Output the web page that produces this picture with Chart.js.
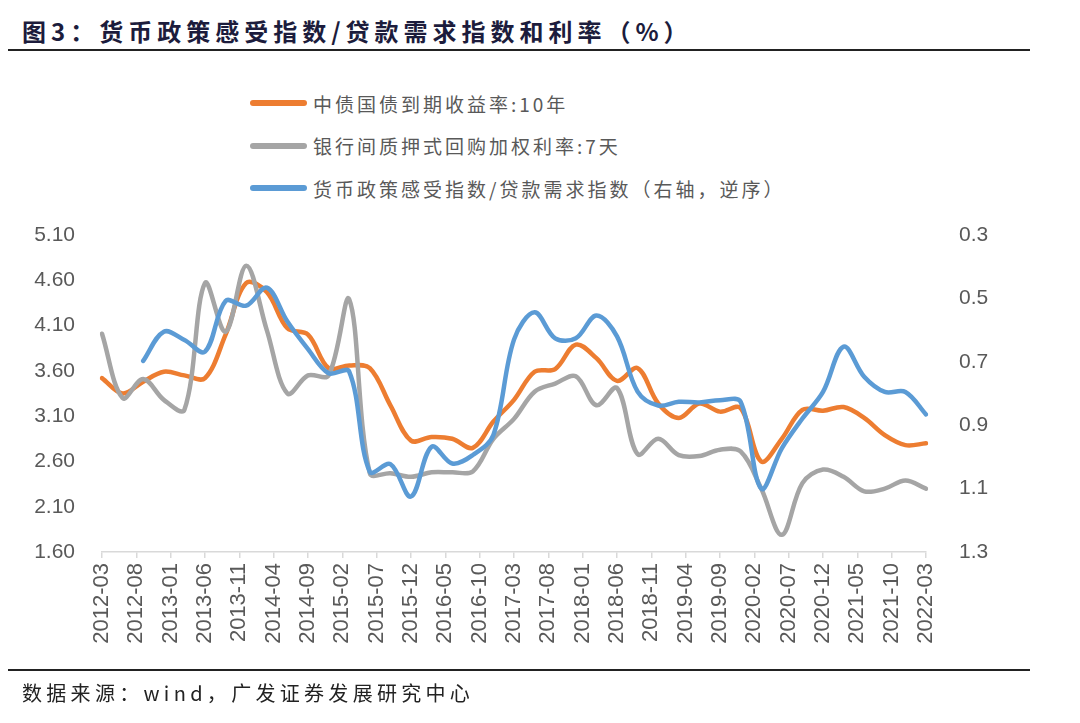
<!DOCTYPE html>
<html>
<head>
<meta charset="utf-8">
<script src="https://cdn.jsdelivr.net/npm/chart.js@4.4.1/dist/chart.umd.min.js"></script>
<style>
  body { margin: 0; width: 1080px; height: 723px; position: relative; background: #fff; overflow: hidden; font-family: "Noto Sans CJK SC", sans-serif; }
  #title { position: absolute; left: 22px; top: 13px; font-size: 24px; font-weight: bold; color: #1c1c3c; letter-spacing: 5px; white-space: nowrap; }
  .rule { position: absolute; left: 8px; width: 1022px; height: 2px; background: #222; }
  #legend { position: absolute; left: 250px; top: 82px; }
  .item { height: 42.5px; display: flex; align-items: center; font-size: 19px; color: #595959; letter-spacing: 3px; white-space: nowrap; }
  .swatch { width: 57px; height: 6px; border-radius: 3px; margin-right: 6px; }
  #src { position: absolute; left: 22px; top: 678px; font-size: 20px; color: #222; letter-spacing: 4.3px; white-space: nowrap; }
  canvas { position: absolute; left: 0; top: 0; }
</style>
</head>
<body>
<div id="title">图3：货币政策感受指数/贷款需求指数和利率（%）</div>
<div class="rule" style="top:49px"></div>
<div id="legend"></div>
<canvas id="chart" width="1080" height="723"></canvas>
<div class="rule" style="top:669px"></div>
<div id="src">数据来源：wind，广发证券发展研究中心</div>

<script>
// 季度数据点（月末）
const quarters = [
  '2012-03','2012-06','2012-09','2012-12','2013-03','2013-06','2013-09','2013-12',
  '2014-03','2014-06','2014-09','2014-12','2015-03','2015-06','2015-09','2015-12',
  '2016-03','2016-06','2016-09','2016-12','2017-03','2017-06','2017-09','2017-12',
  '2018-03','2018-06','2018-09','2018-12','2019-03','2019-06','2019-09','2019-12',
  '2020-03','2020-06','2020-09','2020-12','2021-03','2021-06','2021-09','2021-12',
  '2022-03'
];

// 横轴上显示的刻度标签
const tickLabels = [
  '2012-03','2012-08','2013-01','2013-06','2013-11','2014-04','2014-09','2015-02',
  '2015-07','2015-12','2016-05','2016-10','2017-03','2017-08','2018-01','2018-06',
  '2018-11','2019-04','2019-09','2020-02','2020-07','2020-12','2021-05','2021-10',
  '2022-03'
];

// 中债国债到期收益率:10年（左轴）
const bondYield10y = [
  3.52, 3.35, 3.48, 3.59, 3.55, 3.52, 4.00, 4.57,
  4.47, 4.07, 4.00, 3.63, 3.66, 3.63, 3.22, 2.83,
  2.87, 2.85, 2.75, 3.04, 3.28, 3.59, 3.62, 3.89,
  3.74, 3.49, 3.63, 3.24, 3.08, 3.24, 3.15, 3.19,
  2.60, 2.85, 3.17, 3.16, 3.20, 3.08, 2.89, 2.78,
  2.80
];

// 银行间质押式回购加权利率:7天（左轴）
const repo7d = [
  4.01, 3.30, 3.51, 3.28, 3.17, 4.57, 4.03, 4.76,
  4.05, 3.35, 3.55, 3.55, 4.39, 2.47, 2.47, 2.43,
  2.48, 2.48, 2.49, 2.85, 3.07, 3.37, 3.46, 3.54,
  3.22, 3.41, 2.68, 2.85, 2.67, 2.66, 2.73, 2.71,
  2.30, 1.79, 2.36, 2.51, 2.43, 2.27, 2.30, 2.39,
  2.30
];

// 货币政策感受指数/贷款需求指数（右轴，逆序）
const policyLoanIndex = [
  null, null, 0.697, 0.605, 0.631, 0.668, 0.508, 0.523,
  0.466, 0.573, 0.660, 0.736, 0.731, 1.047, 1.023, 1.125,
  0.968, 1.021, 0.994, 0.931, 0.630, 0.544, 0.626, 0.626,
  0.554, 0.620, 0.794, 0.838, 0.826, 0.828, 0.821, 0.826,
  1.100, 0.973, 0.879, 0.795, 0.652, 0.747, 0.795, 0.795,
  0.866
];

const seriesNames = [
  '中债国债到期收益率:10年',
  '银行间质押式回购加权利率:7天',
  '货币政策感受指数/贷款需求指数（右轴，逆序）'
];
const seriesColors = ['#ED7D31', '#A5A5A5', '#5B9BD5'];

// 月度类目轴：从第一个季度到最后一个季度
function monthList(start, end) {
    const out = [];
    let [y, m] = start.split('-').map(Number);
    const [ey, em] = end.split('-').map(Number);
    while (y < ey || (y === ey && m <= em)) {
        out.push(`${y}-${String(m).padStart(2, '0')}`);
        m++;
        if (m > 12) { m = 1; y++; }
    }
    return out;
}
const months = monthList(quarters[0], quarters[quarters.length - 1]);

function toPoints(values) {
    return quarters
        .map((q, i) => ({ x: q, y: values[i] }))
        .filter(p => p.y !== null);
}

// 图例（HTML）
const legend = document.getElementById('legend');
seriesNames.forEach((name, i) => {
    const row = document.createElement('div');
    row.className = 'item';
    row.innerHTML = `<span class="swatch" style="background:${seriesColors[i]}"></span><span>${name}</span>`;
    legend.appendChild(row);
});

Chart.defaults.font.family = '"Liberation Sans", Arial, sans-serif';
Chart.defaults.color = '#595959';

const ctx = document.getElementById('chart').getContext('2d');
new Chart(ctx, {
    type: 'line',
    data: {
        labels: months,
        datasets: [
            { label: seriesNames[0], data: toPoints(bondYield10y), borderColor: seriesColors[0], yAxisID: 'y', order: 3 },
            { label: seriesNames[1], data: toPoints(repo7d), borderColor: seriesColors[1], yAxisID: 'y', order: 2 },
            { label: seriesNames[2], data: toPoints(policyLoanIndex), borderColor: seriesColors[2], yAxisID: 'y2', order: 1 }
        ]
    },
    options: {
        responsive: false,
        animation: false,
        layout: { padding: { left: 0, right: 0, top: 235, bottom: 71 } },
        plugins: { legend: { display: false }, tooltip: { enabled: false } },
        elements: {
            point: { radius: 0 },
            line: { tension: 0.35, borderWidth: 4.5, borderCapStyle: 'round', borderJoinStyle: 'round', fill: false }
        },
        scales: {
            x: {
                type: 'category',
                grid: {
                    drawOnChartArea: false,
                    drawTicks: true,
                    tickLength: 6,
                    lineWidth: 1.5,
                    color: c => (c.tick && tickLabels.includes(c.tick.label)) ? '#d9d9d9' : 'rgba(0,0,0,0)'
                },
                border: { display: true, color: '#d9d9d9', width: 1.5 },
                ticks: {
                    autoSkip: false,
                    minRotation: 90,
                    maxRotation: 90,
                    padding: 5,
                    color: '#595959',
                    font: { size: 22 },
                    callback: (v, i) => tickLabels.includes(months[i]) ? months[i] : null
                },
                afterFit: s => { s.height = 100; }
            },
            y: {
                position: 'left',
                min: 1.6,
                max: 5.1,
                grid: { display: false },
                border: { display: false },
                ticks: { stepSize: 0.5, padding: 19, font: { size: 21 }, callback: v => v.toFixed(2) },
                afterFit: s => { s.width = 102; }
            },
            y2: {
                position: 'right',
                reverse: true,
                min: 0.3,
                max: 1.3,
                grid: { display: false },
                border: { display: false },
                ticks: { stepSize: 0.2, padding: 25, font: { size: 21 }, callback: v => v.toFixed(1) },
                afterFit: s => { s.width = 154; }
            }
        }
    }
});
</script>
</body>
</html>
